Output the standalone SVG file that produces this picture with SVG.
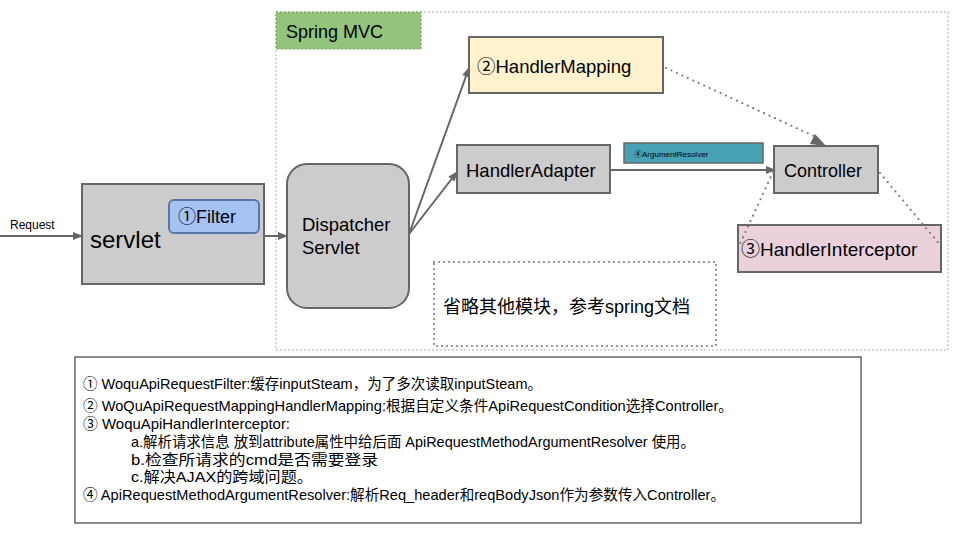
<svg xmlns="http://www.w3.org/2000/svg" width="960" height="540" viewBox="0 0 960 540">
<defs>
<marker id="arr" viewBox="0 0 10 10" refX="9" refY="5" markerWidth="10" markerHeight="10" markerUnits="userSpaceOnUse" orient="auto"><path d="M0,1 L10,5 L0,9 z" fill="#666"/></marker>
<style>
.t{font-family:"Liberation Sans","Noto Sans CJK SC",sans-serif;fill:#000}
.box{stroke:#666;stroke-width:2}
.ln{stroke:#666;stroke-width:2;fill:none}
.dot{stroke:#777;stroke-width:2.2;fill:none;stroke-dasharray:0 6;stroke-linecap:round}
.nt{font-family:"Liberation Sans","Noto Sans CJK SC",sans-serif;font-size:14.5px;fill:#000}
</style>
</defs>
<rect width="960" height="540" fill="#fff"/>
<g id="spring-mvc">
<rect x="276" y="12" width="672" height="338" fill="none" stroke="#aaa" stroke-width="1" stroke-dasharray="2 2"/>
<rect x="276" y="12" width="145" height="37" fill="#93c47d" stroke="#6aa84f" stroke-width="1" stroke-dasharray="2 2"/>
<text class="t" x="286" y="38" font-size="18">Spring MVC</text>
</g>
<g id="servlet">
<rect class="box" x="82" y="184" width="182" height="100" fill="#cccccc"/>
<text class="t" x="90" y="248" font-size="24">servlet</text>
</g>
<g id="filter">
<rect x="169" y="200" width="90" height="33" rx="5" fill="#a4c2f4" stroke="#5a76a8" stroke-width="2"/>
<text class="t" x="178" y="223" font-size="18">①Filter</text>
</g>
<g id="dispatcher">
<rect class="box" x="287" y="164" width="122" height="144" rx="20" fill="#cccccc"/>
<text class="t" x="302" y="231" font-size="18.5">Dispatcher</text>
<text class="t" x="302" y="254" font-size="18.5">Servlet</text>
</g>
<g id="handler-mapping">
<rect class="box" x="469" y="37" width="194" height="56" fill="#fff2cc"/>
<text class="t" x="477" y="73" font-size="18.5">②HandlerMapping</text>
</g>
<g id="handler-adapter">
<rect class="box" x="457" y="145" width="153" height="48" fill="#cccccc"/>
<text class="t" x="466" y="177" font-size="18.5">HandlerAdapter</text>
</g>
<g id="argument-resolver">
<rect x="624" y="143" width="139" height="20" fill="#48a2b5" stroke="#666" stroke-width="1.5"/>
<text class="t" x="634" y="157" font-size="8" fill="#1a2a3a">④ArgumentResolver</text>
</g>
<g id="controller">
<rect class="box" x="774" y="146" width="104" height="47" fill="#cccccc"/>
<text class="t" x="784" y="177" font-size="18">Controller</text>
</g>
<g id="handler-interceptor">
<rect class="box" x="738" y="225" width="203" height="47" fill="#ead1dc"/>
<text class="t" x="741" y="256" font-size="19">③HandlerInterceptor</text>
</g>
<g id="others">
<rect x="434" y="262" width="282" height="84" fill="none" stroke="#777" stroke-width="2" stroke-dasharray="0 5" stroke-linecap="round"/>
<text class="t" x="443" y="313" font-size="18">省略其他模块，参考spring文档</text>
</g>
<g id="connectors">
<line class="ln" x1="0" y1="236" x2="82" y2="236" marker-end="url(#arr)"/>
<text class="t" x="10" y="229" font-size="12">Request</text>
<line class="ln" x1="264" y1="236" x2="287" y2="236" marker-end="url(#arr)"/>
<line class="ln" x1="409" y1="234" x2="469" y2="68" marker-end="url(#arr)"/>
<line class="ln" x1="409" y1="234" x2="457" y2="172" marker-end="url(#arr)"/>
<line class="ln" x1="610" y1="170" x2="775" y2="170" marker-end="url(#arr)"/>
<line class="dot" x1="666" y1="68" x2="818" y2="138"/>
<path d="M815,134 L826,146 L810,144 z" fill="#666"/>
<line class="dot" x1="773" y1="172" x2="740" y2="244"/>
<line class="dot" x1="880" y1="173" x2="941" y2="246"/>
</g>
<g id="notes">
<rect x="75" y="357" width="786" height="166" fill="#fff" stroke="#666" stroke-width="1.5"/>
<text class="nt" x="83" y="389" textLength="459" lengthAdjust="spacingAndGlyphs">① WoquApiRequestFilter:缓存inputSteam，为了多次读取inputSteam。</text>
<text class="nt" x="83" y="411" textLength="650" lengthAdjust="spacingAndGlyphs">② WoQuApiRequestMappingHandlerMapping:根据自定义条件ApiRequestCondition选择Controller。</text>
<text class="nt" x="83" y="429" textLength="207" lengthAdjust="spacingAndGlyphs">③ WoquApiHandlerInterceptor:</text>
<text class="nt" x="131" y="447" textLength="564" lengthAdjust="spacingAndGlyphs">a.解析请求信息 放到attribute属性中给后面 ApiRequestMethodArgumentResolver 使用。</text>
<text class="nt" x="131" y="465" textLength="247" lengthAdjust="spacingAndGlyphs">b.检查所请求的cmd是否需要登录</text>
<text class="nt" x="131" y="482" textLength="182" lengthAdjust="spacingAndGlyphs">c.解决AJAX的跨域问题。</text>
<text class="nt" x="83" y="500" textLength="642" lengthAdjust="spacingAndGlyphs">④ ApiRequestMethodArgumentResolver:解析Req_header和reqBodyJson作为参数传入Controller。</text>
</g>
</svg>
